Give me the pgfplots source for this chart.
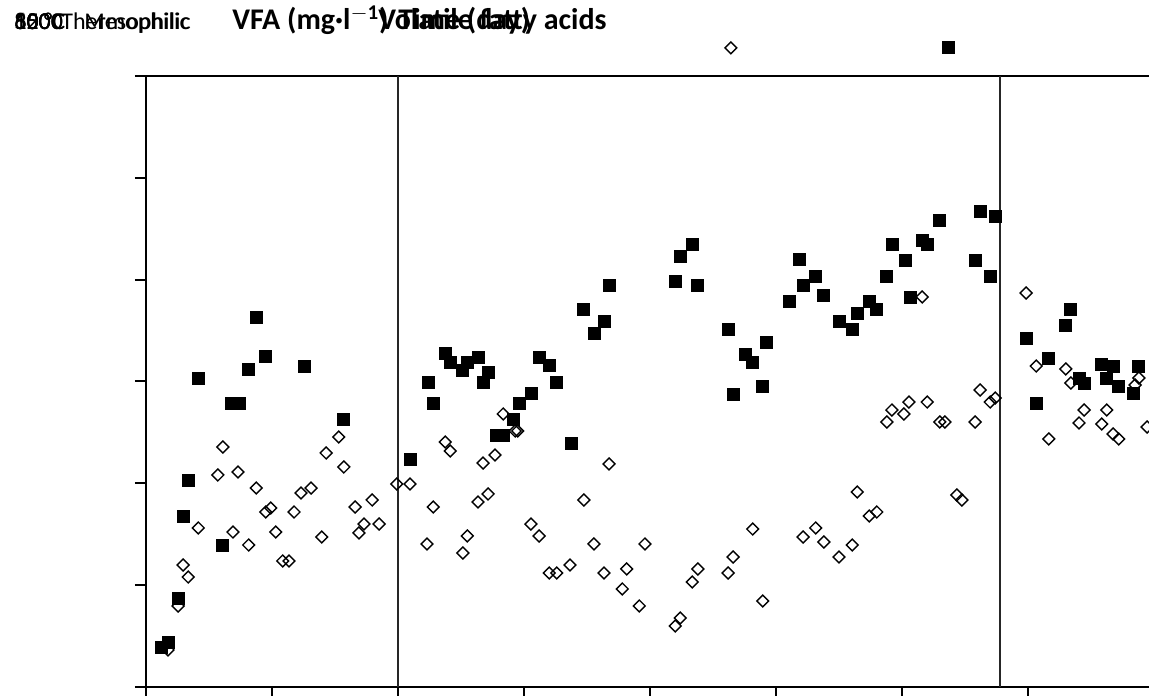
\documentclass[border=0pt]{standalone}
\usepackage{fontspec}
\setmainfont{Carlito}
\usepackage{pgfplots}
\pgfplotsset{compat=1.18}

\begin{document}
\begin{tikzpicture}
% picture frame: 1 px of the reference = 0.5pt, axis origin at px (146,687)
\useasboundingbox (-73pt,-4pt) rectangle (501.5pt,343.5pt);
\clip (-73pt,-4pt) rectangle (501.5pt,343.5pt);

% stray labels stacked in the top-left corner
\begin{scope}[every node/.style={inner sep=0pt, anchor=base west, font=\fontsize{12}{14}\selectfont}]
\node at (-66pt,328.5pt) {1200};
\node at (-66pt,328.5pt) {1000};
\node at (-66pt,328.5pt) {800};
\node at (-66pt,328.5pt) {600};
\node at (-66pt,328.5pt) {35 °C};
\node at (-66pt,328.5pt) {55 °C};
\node at (-42.5pt,328.5pt) {Thermophilic};
\node at (-31pt,328.5pt) {Mesophilic};
\end{scope}
\begin{scope}[every node/.style={inner sep=0pt, anchor=base west, font=\fontsize{15}{17}\selectfont\bfseries}]
\node at (43pt,328.5pt) {VFA (mg·l$^{\mathbf{-1}}$)};
\node at (116pt,328.5pt) {Volatile fatty acids};
\node at (126pt,328.5pt) {Time (day)};
\end{scope}

\begin{axis}[
  at={(0pt,0pt)}, anchor=south west,
  scale only axis, width=507.15pt, height=305.5pt,
  xmin=0, xmax=161, ymin=0, ymax=1200,
  xtick={0,20,...,160}, ytick={0,200,...,1200},
  xticklabels={}, yticklabels={},
  tick pos=left, tick align=outside, major tick length=5.5pt,
  tick style={black, line width=1pt},
  axis line style={black, line width=1pt},
  legend columns=2,
  legend style={draw=none, fill=none, at={(0.688,1.046)}, anchor=center,
    /tikz/every even column/.append style={column sep=99pt}},
]
% period boundaries
\addplot[black!85, line width=1pt, forget plot] coordinates {(40,0) (40,1200)};
\addplot[black!85, line width=1pt, forget plot] coordinates {(135.6,0) (135.6,1200)};

% open diamonds
\addplot[only marks, mark=square, mark size=2.1pt,
  mark options={rotate=45, black, fill=white, line width=0.7pt}]
coordinates {
(3.5,72.7) (5.1,159.1) (5.9,239.6) (6.7,216.0) (8.3,312.3) (11.4,416.4)
(12.2,471.4) (13.8,304.4) (14.6,422.3) (16.3,278.9) (17.5,390.8) (19.0,343.7)
(19.8,351.6) (20.6,304.4) (21.7,247.5) (22.7,247.5) (23.5,343.7) (24.6,381.0)
(26.2,390.8) (27.9,294.6) (28.6,459.6) (30.6,491.0) (31.4,432.1) (33.2,353.5)
(35.9,367.3) (34.6,320.1) (33.8,302.5) (37.0,320.1) (39.8,398.7) (41.9,398.7)
(45.6,353.5) (44.6,280.9) (47.5,481.2) (48.3,463.5) (51.0,296.6) (50.3,263.2)
(53.5,439.9) (55.4,455.6) (52.7,363.3) (54.3,379.1) (56.7,536.2) (58.6,502.8)
(59.0,502.8) (61.1,320.1) (62.4,296.6) (64.0,223.9) (65.2,223.9) (67.3,239.6)
(73.5,438.0) (69.5,367.3) (71.1,280.9) (72.7,223.9) (76.3,231.8) (75.6,192.5)
(79.2,280.9) (78.3,159.1) (84.0,119.8) (84.8,135.5) (86.7,206.2) (87.6,231.8)
(92.4,223.9) (93.2,255.3) (96.3,310.3) (97.9,168.9) (104.3,294.6) (106.3,312.3)
(107.6,284.8) (110.0,255.3) (112.1,278.9) (112.9,383.0) (114.8,335.8) (116.0,343.7)
(117.6,520.5) (118.4,544.0) (120.3,536.2) (121.1,559.7) (123.2,766.0) (124.0,559.7)
(126.0,520.5) (126.8,520.5) (128.7,377.1) (129.5,367.3) (131.6,520.5) (132.4,583.3)
(134.0,559.7) (134.8,567.6) (139.7,773.8) (141.3,630.4) (146.0,624.6) (146.8,597.1)
(143.3,487.1) (148.9,544.0) (148.1,518.5) (152.5,544.0) (151.7,516.5) (153.5,496.9)
(154.4,487.1) (157.6,606.9) (157.0,593.1) (158.9,510.6)
};
\addlegendentry{\mbox{}}

% filled squares
\addplot[only marks, mark=square*, mark size=3pt, mark options={black, fill=black}]
coordinates {
(2.5,78.6) (3.5,88.4) (5.1,174.8) (5.9,335.8) (6.7,406.5) (8.3,606.9)
(12.2,278.9) (13.5,557.8) (14.8,557.8) (16.2,624.6) (17.5,726.7) (19.0,650.1)
(25.1,630.4) (31.4,526.4) (41.9,447.8) (44.8,599.0) (45.6,557.8) (47.5,656.0)
(48.3,638.3) (50.3,622.6) (51.0,638.3) (52.7,648.1) (54.3,618.7) (53.5,599.0)
(55.6,494.9) (56.7,494.9) (58.3,526.4) (59.2,557.8) (61.1,577.4) (62.4,648.1)
(64.0,632.4) (65.1,599.0) (67.6,479.2) (69.5,742.4) (72.7,718.8) (71.1,695.3)
(73.5,789.5) (84.0,797.4) (84.8,846.5) (86.8,870.1) (87.6,789.5) (92.4,703.1)
(93.2,575.5) (95.2,654.0) (96.3,638.3) (97.9,591.2) (98.4,677.6) (102.1,758.1)
(103.7,840.6) (104.4,789.5) (106.3,807.2) (107.6,769.9) (110.0,718.8) (112.1,703.1)
(112.9,734.5) (114.8,758.1) (116.0,742.4) (117.6,807.2) (118.4,870.1) (120.5,838.6)
(121.3,766.0) (123.2,877.9) (124.0,870.1) (126.0,917.2) (131.6,838.6) (132.4,934.9)
(134.1,807.2) (134.9,925.0) (146.8,742.4) (146.0,711.0) (139.7,685.4) (143.3,646.2)
(141.3,557.8) (148.1,606.9) (148.9,597.1) (151.7,634.4) (153.5,630.4) (152.5,606.9)
(154.3,591.2) (157.6,630.4) (156.8,577.4)
};
\addlegendentry{\mbox{}}
\end{axis}
\end{tikzpicture}
\end{document}
